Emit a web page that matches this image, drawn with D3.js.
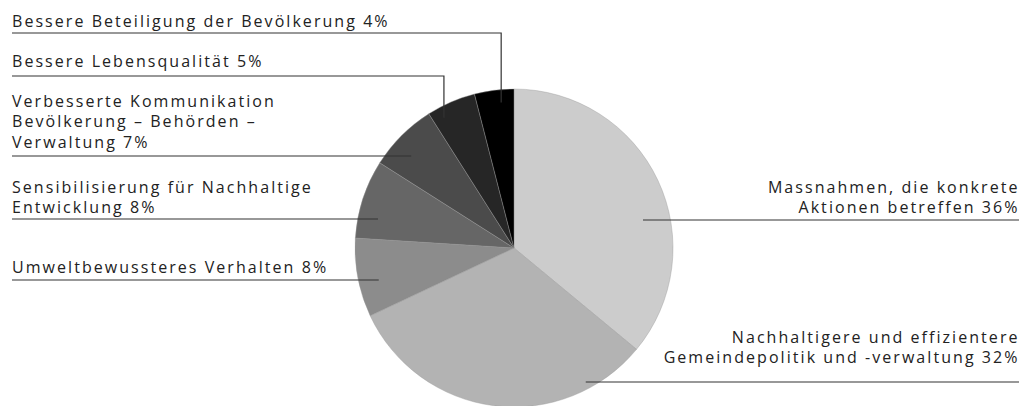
<!DOCTYPE html>
<html>
<head>
<meta charset="utf-8">
<script src="https://cdn.jsdelivr.net/npm/d3@7"></script>
<style>
  body { margin: 0; background: #fff; }
  text { font-family: "Open Sans", sans-serif; font-size: 16px; letter-spacing: 2.05px; fill: #222; }
</style>
</head>
<body>
<svg id="chart"></svg>
<script>
// slices, clockwise from 12 o'clock
var labels = [
  "Massnahmen, die konkrete\nAktionen betreffen 36%",
  "Nachhaltigere und effizientere\nGemeindepolitik und -verwaltung 32%",
  "Umweltbewussteres Verhalten 8%",
  "Sensibilisierung für Nachhaltige\nEntwicklung 8%",
  "Verbesserte Kommunikation\nBevölkerung – Behörden –\nVerwaltung 7%",
  "Bessere Lebensqualität 5%",
  "Bessere Beteiligung der Bevölkerung 4%"
]
var values = [36, 32, 8, 8, 7, 5, 4]
var colors = ["#cccccc", "#b3b3b3", "#8c8c8c", "#666666", "#4b4b4b", "#262626", "#000000"]

var width = 1019, height = 406
var cx = 514, cy = 248, radius = 159

// label placement: side, y of the underline, baseline of last text line,
// how deep the leader goes; elbow ones go down into the slice at fraction t
var layout = [
  { side: "right", lineY: 220, textY: 213, r: 132 },
  { side: "right", lineY: 382, textY: 363, r: 152 },
  { side: "left", lineY: 280, textY: 272.5, r: 139 },
  { side: "left", lineY: 219, textY: 213, r: 139 },
  { side: "left", lineY: 156, textY: 147.5, r: 138 },
  { side: "left", lineY: 76, textY: 67, elbow: true, t: 0.23, r: 148 },
  { side: "left", lineY: 33, textY: 26.5, elbow: true, t: 0.65, r: 146 }
]
var lineH = 20.5

var svg = d3.select('#chart')
  .attr('width', width)
  .attr('height', height)

var pie = d3.pie().value(d => d).sort(null)
var arcs = pie(values)

var arc = d3.arc().innerRadius(0).outerRadius(radius)

var g = svg.append('g').attr('transform', 'translate(' + cx + ',' + cy + ')')

g.selectAll('path')
  .data(arcs)
  .enter()
  .append('path')
  .attr('d', arc)
  .attr('fill', (d, i) => colors[i])
  .attr('stroke', '#9a9a9a')
  .attr('stroke-width', 0.4)

// leader lines
arcs.forEach(function (d, i) {
  var L = layout[i]
  var pts = []
  if (L.elbow) {
    var a = d.startAngle + (d.endAngle - d.startAngle) * L.t
    var x = cx + L.r * Math.sin(a)
    var y = cy - L.r * Math.cos(a)
    pts = [[12, L.lineY], [x, L.lineY], [x, y]]
  } else {
    var dy = L.lineY - cy
    var dx = Math.sqrt(L.r * L.r - dy * dy)
    if (L.side == "left") {
      pts = [[12, L.lineY], [cx - dx, L.lineY]]
    } else {
      pts = [[cx + dx, L.lineY], [width, L.lineY]]
    }
  }
  svg.append('path')
    .attr('d', d3.line()(pts))
    .attr('fill', 'none')
    .attr('stroke', '#333')
    .attr('stroke-width', 1.2)
})

// label texts, stacked upwards from the last line
labels.forEach(function (lab, i) {
  var L = layout[i]
  var lines = lab.split('\n')
  var t = svg.append('text')
    .attr('text-anchor', L.side == "left" ? 'start' : 'end')
  lines.forEach(function (s, j) {
    t.append('tspan')
      .attr('x', L.side == "left" ? 12 : 1019.5)
      .attr('y', L.textY - (lines.length - 1 - j) * lineH)
      .text(s)
  })
})
</script>
</body>
</html>
